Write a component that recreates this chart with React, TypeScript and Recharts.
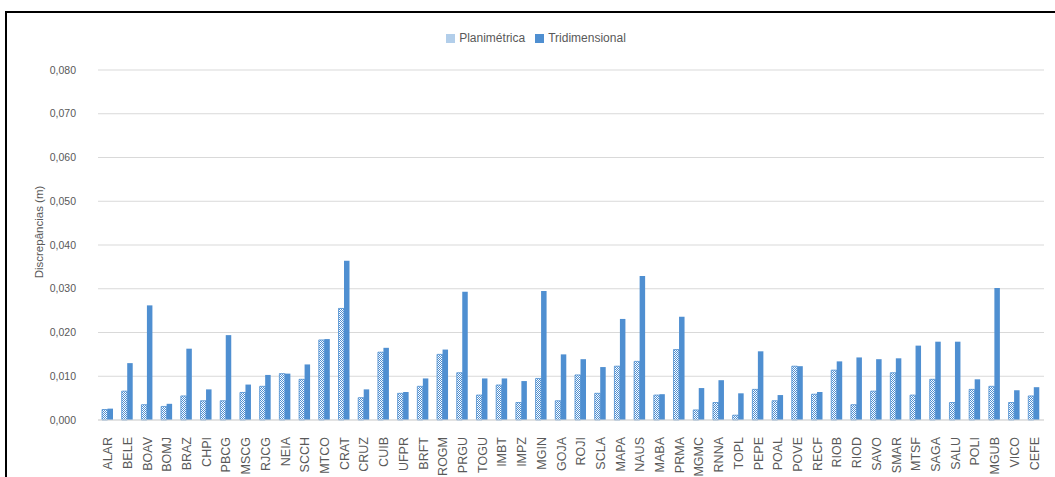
import { BarChart, Bar, XAxis, YAxis, CartesianGrid, Legend } from 'recharts'

const stations = [
  'ALAR', 'BELE', 'BOAV', 'BOMJ', 'BRAZ', 'CHPI', 'PBCG', 'MSCG', 'RJCG', 'NEIA', 'SCCH', 'MTCO',
  'CRAT', 'CRUZ', 'CUIB', 'UFPR', 'BRFT', 'ROGM', 'PRGU', 'TOGU', 'IMBT', 'IMPZ', 'MGIN', 'GOJA',
  'ROJI', 'SCLA', 'MAPA', 'NAUS', 'MABA', 'PRMA', 'MGMC', 'RNNA', 'TOPL', 'PEPE', 'POAL', 'POVE',
  'RECF', 'RIOB', 'RIOD', 'SAVO', 'SMAR', 'MTSF', 'SAGA', 'SALU', 'POLI', 'MGUB', 'VICO', 'CEFE',
]

const planimetrica = [
  0.0024, 0.0066, 0.0035, 0.0031, 0.0055, 0.0044, 0.0044, 0.0063, 0.0077, 0.0106, 0.0093, 0.0183,
  0.0255, 0.0051, 0.0155, 0.0061, 0.0077, 0.015, 0.0108, 0.0057, 0.008, 0.004, 0.0095, 0.0044,
  0.0103, 0.0061, 0.0123, 0.0134, 0.0057, 0.0161, 0.0023, 0.004, 0.0011, 0.007, 0.0044, 0.0123,
  0.0059, 0.0114, 0.0035, 0.0066, 0.0108, 0.0057, 0.0093, 0.004, 0.007, 0.0077, 0.004, 0.0055,
]

const tridimensional = [
  0.0026, 0.013, 0.0262, 0.0037, 0.0163, 0.007, 0.0194, 0.0081, 0.0103, 0.0106, 0.0127, 0.0185,
  0.0364, 0.007, 0.0165, 0.0064, 0.0095, 0.0161, 0.0293, 0.0095, 0.0095, 0.0089, 0.0295, 0.015,
  0.0139, 0.0121, 0.0231, 0.0329, 0.0059, 0.0236, 0.0073, 0.0091, 0.0061, 0.0157, 0.0057, 0.0123,
  0.0064, 0.0134, 0.0143, 0.0139, 0.0141, 0.017, 0.0179, 0.0179, 0.0093, 0.0302, 0.0068, 0.0075,
]

const yTicks = [0, 0.01, 0.02, 0.03, 0.04, 0.05, 0.06, 0.07, 0.08]

const data = stations.map((name, i) => ({
  name,
  planimetrica: planimetrica[i],
  tridimensional: tridimensional[i],
}))

const BLUE = '#4f8fd1'
const TEXT = '#595959'
const FONT = '"Liberation Sans", Arial, sans-serif'

const fmt = (v: number) => v.toFixed(3).replace('.', ',')

function StationTick(props: any) {
  const { x, y, payload } = props
  return (
    <text
      x={x}
      y={y + 9}
      transform={`rotate(-90 ${x} ${y + 9})`}
      textAnchor="end"
      dy="0.35em"
      fill={TEXT}
      fontSize={12.5}
      fontFamily={FONT}
    >
      {payload.value}
    </text>
  )
}

export default function App() {
  return (
    <div style={{ position: 'absolute', left: 0, top: 0, width: 1055, height: 477, overflow: 'hidden', background: '#fff' }}>
      <div
        style={{
          position: 'absolute',
          left: 5,
          top: 11,
          width: 1048,
          height: 464,
          borderLeft: '2px solid #000',
          borderTop: '2px solid #000',
        }}
      />
      <div style={{ position: 'absolute', left: 0, top: 0 }}>
        <BarChart
          width={1055}
          height={477}
          data={data}
          margin={{ top: 56, right: 11, bottom: 0, left: 38 }}
          barGap={0}
          barSize={5.5}
        >
          <defs>
            <pattern id="hatch" width="2" height="2" patternUnits="userSpaceOnUse">
              <rect width="2" height="2" fill="#ffffff" />
              <rect width="1" height="1" fill={BLUE} />
              <rect x="1" y="1" width="1" height="1" fill={BLUE} />
            </pattern>
          </defs>
          <CartesianGrid vertical={false} stroke="#d9d9d9" />
          <XAxis
            dataKey="name"
            interval={0}
            height={57}
            tick={<StationTick />}
            tickLine={false}
            axisLine={{ stroke: '#d9d9d9' }}
          />
          <YAxis
            width={60}
            domain={[0, 0.08]}
            ticks={yTicks}
            tickFormatter={fmt}
            axisLine={false}
            tickLine={false}
            tickSize={0}
            tickMargin={22}
            tick={{ fill: TEXT, fontSize: 10.5, fontFamily: FONT }}
            label={{
              content: () => (
                <text
                  x={39}
                  y={232}
                  transform="rotate(-90 39 232)"
                  textAnchor="middle"
                  dy="0.35em"
                  fill={TEXT}
                  fontSize={11.5}
                  fontFamily={FONT}
                >
                  Discrepâncias (m)
                </text>
              ),
            }}
          />
          <Legend
            verticalAlign="top"
            align="center"
            iconType="square"
            iconSize={9}
            wrapperStyle={{ top: 31, fontFamily: FONT, fontSize: 12 }}
            formatter={(value: string) => <span style={{ color: TEXT }}>{value}</span>}
          />
          <Bar
            dataKey="planimetrica"
            name="Planimétrica"
            fill="url(#hatch)"
            stroke={BLUE}
            strokeWidth={0.8}
            legendType="square"
            isAnimationActive={false}
          />
          <Bar
            dataKey="tridimensional"
            name="Tridimensional"
            fill={BLUE}
            legendType="square"
            isAnimationActive={false}
          />
        </BarChart>
      </div>
    </div>
  )
}
